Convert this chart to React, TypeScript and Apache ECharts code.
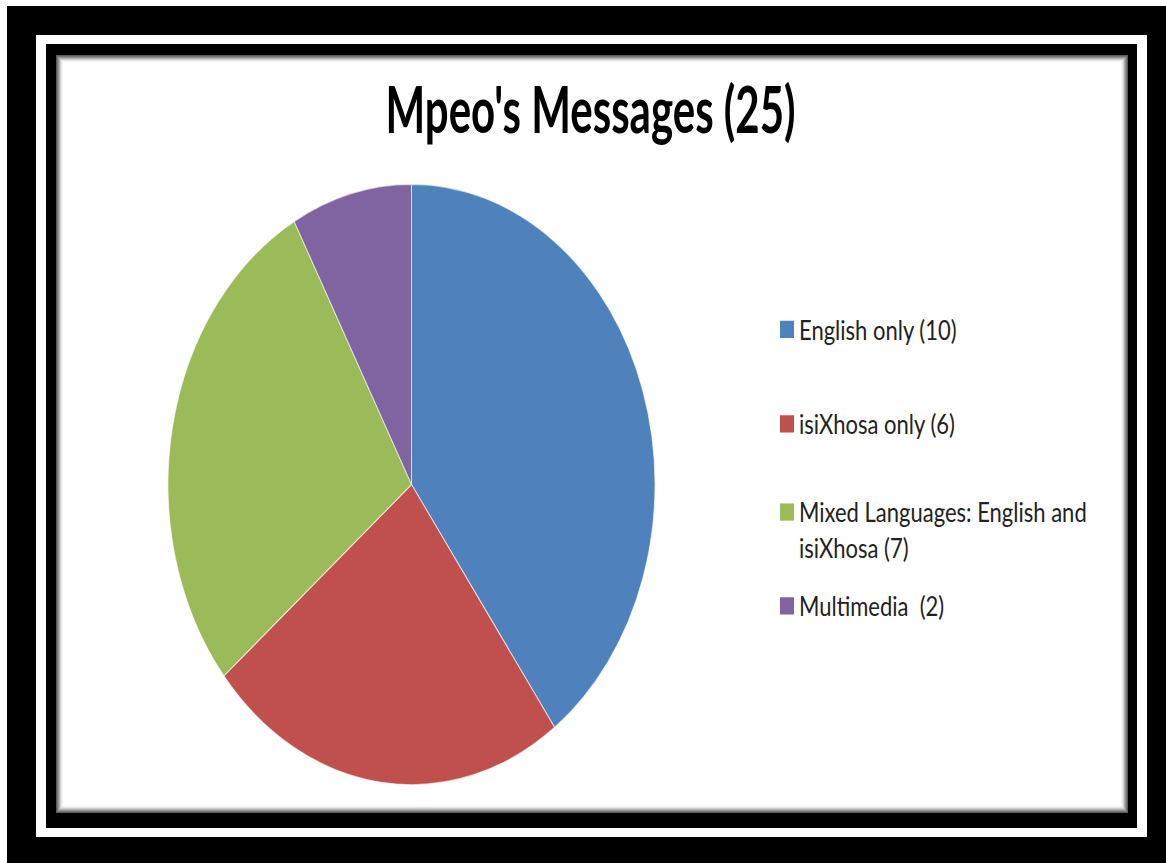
import React, { useEffect, useRef } from 'react';
import * as echarts from 'echarts';

// vertical stretch of the reference picture
const S = 863 / 700;
const Y = (v: number) => v / S;

const titleText = "Mpeo's Messages (25)";
const categories = ['English only', 'isiXhosa only', 'Mixed Languages: English and isiXhosa', 'Multimedia '];
const values = [10, 6, 7, 2];
const colors = ['#4F81BD', '#C0504D', '#9BBB59', '#8064A2'];

const LH = 29; // line pitch of the wrapped legend entry
// legend square tops (unscaled px) for each entry
const legendTops = [Y(330) - 11.5, Y(424.5) - 11.5, Y(514.5) - 7 - 1.5 * LH + 5, Y(606.5) - 11.5];

export default function App() {
  const ref = useRef<HTMLDivElement>(null);
  useEffect(() => {
    document.body.style.margin = '0';
    const chart = echarts.init(ref.current!, null, { renderer: 'svg' });

    const shades = ['#5a5a5a', '#767676', '#949494', '#b2b2b2', '#cfcfcf', '#e6e6e6', '#f5f5f5', '#ffffff'];
    const frame: any[] = [
      { type: 'rect', z: 0, shape: { x: 7, y: Y(6), width: 1170, height: 720 }, style: { fill: '#000' } },
      { type: 'rect', z: 0, shape: { x: 36, y: Y(35), width: 1111, height: Y(837) - Y(35) }, style: { fill: '#fff' } },
      { type: 'rect', z: 0, shape: { x: 46, y: Y(44), width: 1091, height: Y(828) - Y(44) }, style: { fill: '#000' } },
    ];
    shades.forEach((c, i) => {
      frame.push({
        type: 'rect', z: 0,
        shape: { x: 56 + i, y: Y(55 + i), width: 1072 - 2 * i, height: Y(813 - i) - Y(55 + i) },
        style: { fill: c },
      });
    });
    frame.push({
      type: 'text', z: 10,
      x: 590.5, y: Y(108.5), scaleY: 1.24,
      style: {
        text: titleText, align: 'center', verticalAlign: 'middle',
        fontFamily: 'Lato', fontWeight: 'bold', fontSize: 42, fill: '#000',
      },
    });

    const legends = categories.map((name, i) => ({
      data: [name],
      left: 780,
      top: legendTops[i],
      padding: 0,
      orient: 'vertical',
      icon: 'rect',
      itemWidth: 14,
      itemHeight: 14,
      selectedMode: false,
      itemStyle: { borderWidth: 0 },
      formatter: (n: string) => (i === 2 ? '\n' : '') + `${n} (${values[categories.indexOf(n)]})`,
      textStyle: i === 2
        ? { fontFamily: 'Lato', fontSize: 22, color: '#222', lineHeight: LH, width: 305, overflow: 'break' }
        : { fontFamily: 'Lato', fontSize: 22, color: '#222', lineHeight: 14 },
    }));

    chart.setOption({
      animation: false,
      backgroundColor: 'transparent',
      graphic: { elements: frame },
      legend: legends,
      series: [
        {
          type: 'pie',
          center: [411.5, Y(484.5)],
          radius: 243.5,
          startAngle: 90,
          clockwise: true,
          label: { show: false },
          labelLine: { show: false },
          itemStyle: { borderColor: 'rgba(255,255,255,0.6)', borderWidth: 1 },
          emphasis: { disabled: true },
          data: categories.map((name, i) => ({ name, value: values[i], itemStyle: { color: colors[i] } })),
        },
      ],
    });
    return () => chart.dispose();
  }, []);
  return (
    <div style={{ position: 'absolute', left: 0, top: 0, width: 1166, height: 863, overflow: 'hidden', background: '#fff' }}>
      <div ref={ref} style={{ width: 1166, height: 700, transform: `scaleY(${S})`, transformOrigin: '0 0' }} />
    </div>
  );
}
